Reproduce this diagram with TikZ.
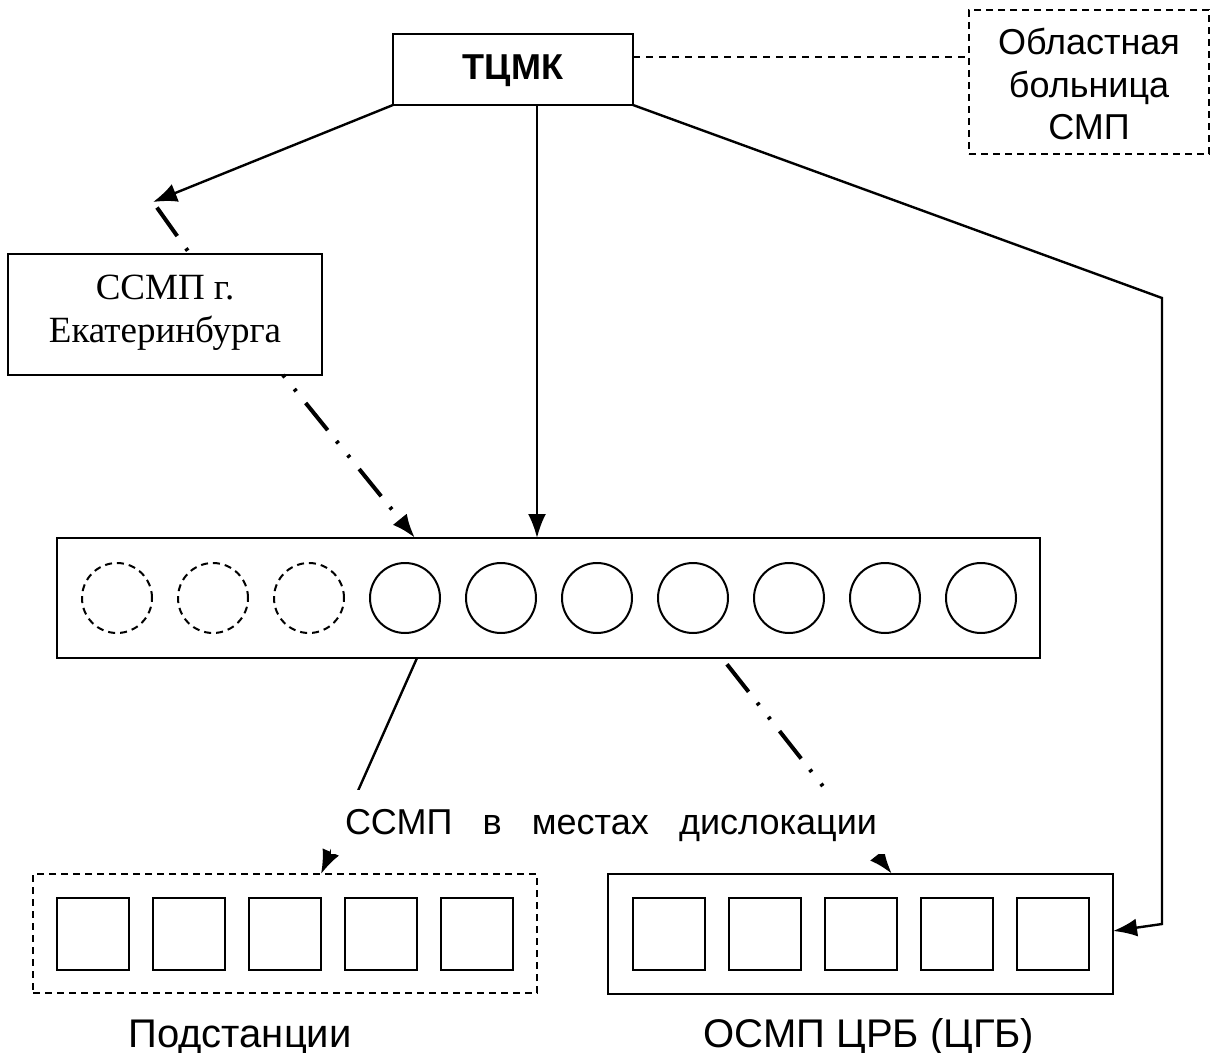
\documentclass[tikz,border=0pt]{standalone}
\usepackage{fontspec}
\setmainfont{Liberation Sans}
\newfontfamily\serifru{Liberation Serif}
\usetikzlibrary{arrows.meta}
\begin{document}
\begin{tikzpicture}[x=0.5pt,y=-0.5pt,
  every node/.style={inner sep=0pt, outer sep=0pt},
  fnt/.style={font=\fontsize{18pt}{21.25pt}\selectfont},
  lblfnt/.style={font=\fontsize{20pt}{24pt}\selectfont},
  box/.style={draw, line width=1.3pt},
  dbox/.style={draw, line width=1pt, dash pattern=on 3.5pt off 2.5pt},
  sq/.style={draw, line width=1pt, minimum size=36pt},
  circ/.style={draw, circle, line width=1pt, minimum size=35pt},
  dcirc/.style={circ, dash pattern=on 3.5pt off 2.5pt},
  conn/.style={line width=1.2pt},
  arr/.style={-{Latex[length=12pt,width=9pt]}},
  bigarr/.style={-{Latex[length=12pt,width=9.5pt]}},
  dd/.style={line width=2pt, dash pattern=on 1.5pt off 7.5pt on 1.5pt off 7.5pt on 17.5pt off 7pt},
  thindash/.style={line width=0.8pt, dash pattern=on 3.5pt off 3pt}
]
\useasboundingbox (0,0) rectangle (1220,1053);

% boxes
\node[box, minimum width=120pt, minimum height=35.5pt] (tcmk) at (513,69.5) {};
\node[fnt, anchor=base] (tcmkt) at (513,80) {\bfseries ТЦМК};

\node[dbox, minimum width=120pt, minimum height=72pt] (obl) at (1089,82) {};
\node[fnt, anchor=base] (oblt) at (1089,55)
  {\begin{tabular}[t]{@{}c@{}}Областная\\больница\\СМП\end{tabular}};

\node[box, minimum width=157pt, minimum height=60.5pt] (ssmp) at (165,314.5) {};
\node[anchor=base, font=\serifru\fontsize{18.5pt}{21pt}\selectfont] (ssmpt) at (165,300)
  {\begin{tabular}[t]{@{}c@{}}ССМП г.\\Екатеринбурга\end{tabular}};

\node[box, minimum width=491.5pt, minimum height=60pt] (wide) at (548.5,598) {};
\foreach \i in {1,2,3}
  \node[dcirc] (c\i) at ({117+96*(\i-1)},598) {};
\foreach \i in {4,...,10}
  \node[circ] (c\i) at ({117+96*(\i-1)},598) {};

\node[dbox, minimum width=252pt, minimum height=59.5pt] (pod) at (285,933.5) {};
\node[box, minimum width=252.5pt, minimum height=60pt] (osmp) at (860.5,934) {};
\foreach \i in {1,...,5} {
  \node[sq] (p\i) at ({92.5+96*(\i-1)},934) {};
  \node[sq] (o\i) at ({669+96*(\i-1)},934) {};
}

\node[lblfnt, anchor=base] (podl) at (240,1047) {Подстанции};
\node[lblfnt, anchor=base] (osmpl) at (869,1047) {ОСМП ЦРБ (ЦГБ)};

% helper coordinates
\coordinate (dl) at (0,57);
\coordinate (t1) at (153,202);
\coordinate (r1) at (1162,298);
\coordinate (r2) at (1162,924);
\coordinate (v1) at ([xshift=12pt]tcmk.south);

% connectors
\draw[thindash] (tcmk.east |- dl) -- (obl.west |- dl);
\draw[conn, bigarr] (tcmk.south west) -- (t1);
\draw[dd, dash phase=7pt] ([xshift=12.5pt]ssmp.north) -- (t1);
\draw[dd, arr] ([xshift=59pt]ssmp.south) -- ([xshift=-66.75pt]wide.north);
\draw[conn, arr] (v1) -- (v1 |- wide.north);
\draw[conn, arr] (tcmk.south east) -- (r1) -- (r2) -- ([yshift=1.5pt]osmp.east);
\draw[conn, arr] ([xshift=-65.75pt]wide.south) -- ([xshift=18pt]pod.north);
\draw[dd, dash phase=14pt, arr] ([xshift=86.75pt]wide.south) -- ([xshift=15.75pt]osmp.north);

% middle label covering the connectors
\node[fnt, fill=white, minimum width=280pt, minimum height=32pt, text height=12.9pt, text depth=0pt] (mid) at (611,822)
  {\hbox to 266pt{ССМП\hfill в\hfill местах\hfill дислокации}};
\end{tikzpicture}
\end{document}
